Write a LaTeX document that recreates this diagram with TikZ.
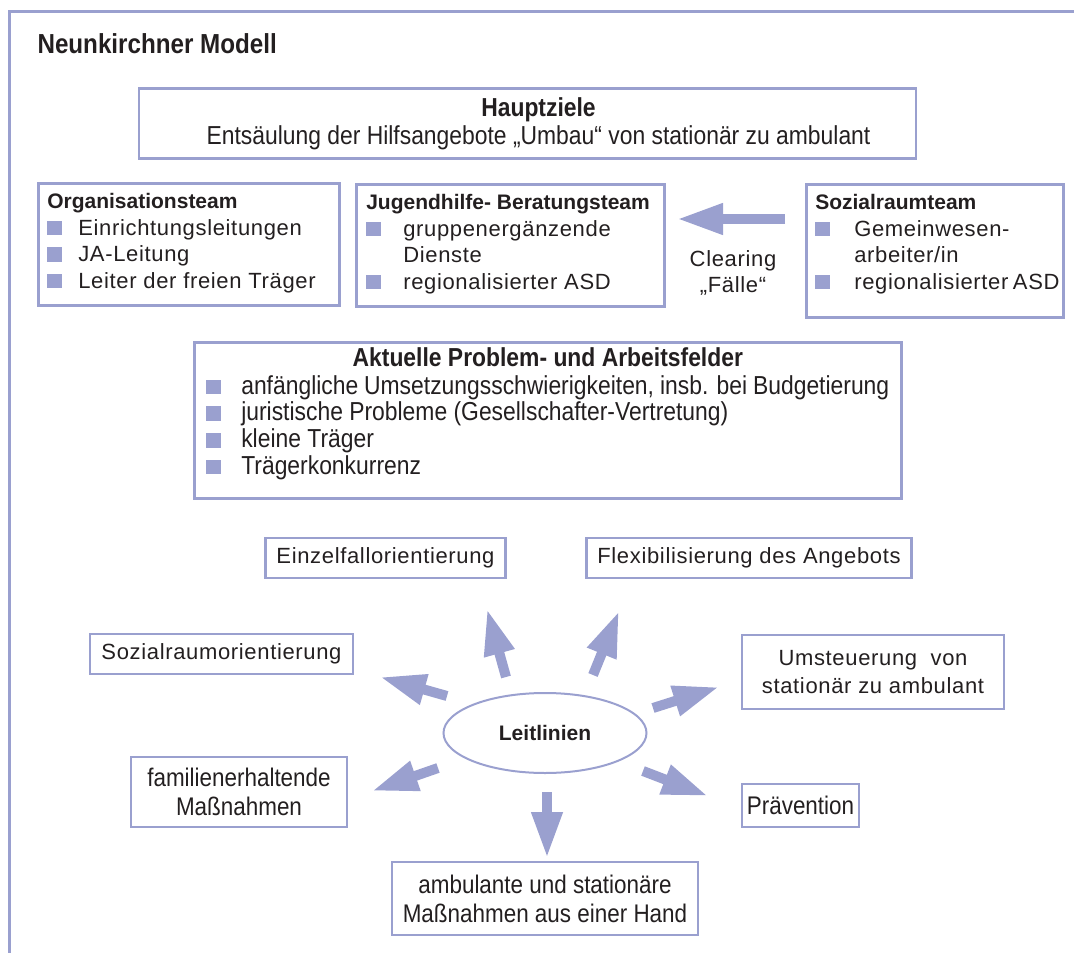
\documentclass[tikz,border=0pt]{standalone}
\usepackage{fontspec}
\setmainfont{Liberation Sans}
\newfontfamily\weit{Liberation Sans}[LetterSpace=3]
\newfontfamily\schmal{Liberation Sans}[FakeStretch=0.88]
\usetikzlibrary{arrows.meta,positioning,shapes.geometric}
\definecolor{lila}{RGB}{154,160,207}
\definecolor{schrift}{RGB}{35,31,32}

\newcommand{\titelfont}{\normalfont\bfseries\fontsize{21}{26}\selectfont}
\newcommand{\schmalfont}{\schmal\fontsize{25.5}{29}\selectfont}
\newcommand{\punkt}[1][34pt]{\makebox[#1][l]{\textcolor{lila}{\rule{14.5pt}{14.5pt}}}}
\newcommand{\inhalt}[3]{\parbox[t][#2][t]{#1}{\strut#3}}

\begin{document}
\begin{tikzpicture}[x=1pt, y=-1pt,
  kasten/.style={draw=lila, line width=2.6pt, inner sep=9pt, text=schrift},
  einfach/.style={kasten, align=center, inner sep=2pt},
  pfeil/.style={draw=lila, line width=10pt, -{Triangle[length=46pt,width=29pt]}},
  font=\weit\fontsize{22}{26.5}\selectfont
]
\useasboundingbox (0,0) rectangle (1074,953);

% Rahmen
\draw[lila, line width=3pt] (9,953) -- (9,11) -- (1074,11);
\node[anchor=base west, text=schrift, font=\schmal\bfseries\fontsize{27.5}{30}\selectfont] (titel) at (34,53) {Neunkirchner Modell};

% obere Kaesten
\node[kasten, minimum width=777pt, minimum height=67pt, align=center, font=\schmal\fontsize{26}{28}\selectfont] (haupt) at (527.5,123.5)
  {\hspace*{22pt}{\bfseries Hauptziele}\\\hspace*{22pt}Entsäulung der Hilfsangebote „Umbau“ von stationär zu ambulant};

\node[kasten, anchor=north west, inner ysep=7pt] (orga) at (37,182) {\inhalt{283pt}{108pt}{%
  {\titelfont Organisationsteam}\\
  \punkt[31pt]Einrichtungsleitungen\\
  \punkt[31pt]JA-Leitung\\
  \punkt[31pt]Leiter der freien Träger}};

\node[kasten, anchor=north west, inner xsep=10pt, inner ysep=7pt] (jugend) at (355,183) {\inhalt{288pt}{108pt}{%
  {\titelfont Jugendhilfe- Beratungsteam}\\
  \punkt[37pt]gruppenergänzende\\
  \hspace*{37pt}Dienste\\
  \punkt[37pt]regionalisierter~ASD}};

\node[kasten, anchor=north west, inner ysep=7pt] (sozial) at (805,183) {\inhalt{239pt}{119pt}{%
  {\titelfont Sozialraumteam}\\
  \punkt[39pt]Gemeinwesen-\\
  \hspace*{39pt}arbeiter/in\\
  \punkt[39pt]regionalisierter~ASD}};

\coordinate (clear-von) at (785,219);
\coordinate (clear-nach) at (677,219);
\draw[pfeil] (clear-von) -- (clear-nach);
\node[align=center, text=schrift] (clear) at (733,273) {Clearing\\„Fälle“};

\node[kasten, anchor=north west, inner xsep=12pt, inner ysep=5pt, font=\schmal\fontsize{26}{26.8}\selectfont] (aktuell) at (193,341) {\inhalt{683pt}{146pt}{%
  {\centering\bfseries Aktuelle Problem- und Arbeitsfelder\par}
  \punkt[35pt]anfängliche Umsetzungsschwierigkeiten, insb. bei Budgetierung\\
  \punkt[35pt]juristische Probleme (Gesellschafter-Vertretung)\\
  \punkt[35pt]kleine Träger\\
  \punkt[35pt]Trägerkonkurrenz}};

% Leitlinien
\node[ellipse, draw=lila, line width=2pt, minimum width=203pt, minimum height=80pt, text=schrift, font=\titelfont] (leit) at (545,733) {Leitlinien};

\node[einfach, minimum width=240pt, minimum height=40pt] (einzel) at (385.5,558) {Einzelfallorientierung};
\node[einfach, minimum width=325pt, minimum height=40pt] (flex) at (749,558) {Flexibilisierung des Angebots};
\node[einfach, minimum width=263pt, minimum height=40pt] (sozort) at (221.5,654) {Sozialraumorientierung};
\node[einfach, minimum width=262pt, minimum height=74pt] (umst) at (873,672) {Umsteuerung\ \ von\\[2pt]stationär zu ambulant};
\node[einfach, minimum width=216pt, minimum height=70pt, font=\schmalfont] (fam) at (239,792) {familienerhaltende\\Maßnahmen};
\node[einfach, minimum width=117pt, minimum height=43pt, font=\schmalfont] (praev) at (800.5,805.5) {Prävention};
\node[einfach, minimum width=306pt, minimum height=73pt, font=\schmalfont] (ambul) at (545,898.5) {ambulante und stationäre\\Maßnahmen aus einer Hand};

% Pfeile
\coordinate (einzel-a) at (506,677);  \coordinate (einzel-b) at (487,609);
\coordinate (flex-a) at (593,675);    \coordinate (flex-b) at (619,611);
\coordinate (sozort-a) at (447,696);  \coordinate (sozort-b) at (380,677);
\coordinate (umst-a) at (653,708);    \coordinate (umst-b) at (719,687);
\coordinate (fam-a) at (438,768);     \coordinate (fam-b) at (372,791);
\coordinate (praev-a) at (643,771);   \coordinate (praev-b) at (708,796);
\coordinate (ambul-a) at (547,792);   \coordinate (ambul-b) at (547,858);

\foreach \z in {einzel,flex,sozort,umst,fam,praev,ambul}
  \draw[pfeil] (\z-a) -- (\z-b);

\end{tikzpicture}
\end{document}
